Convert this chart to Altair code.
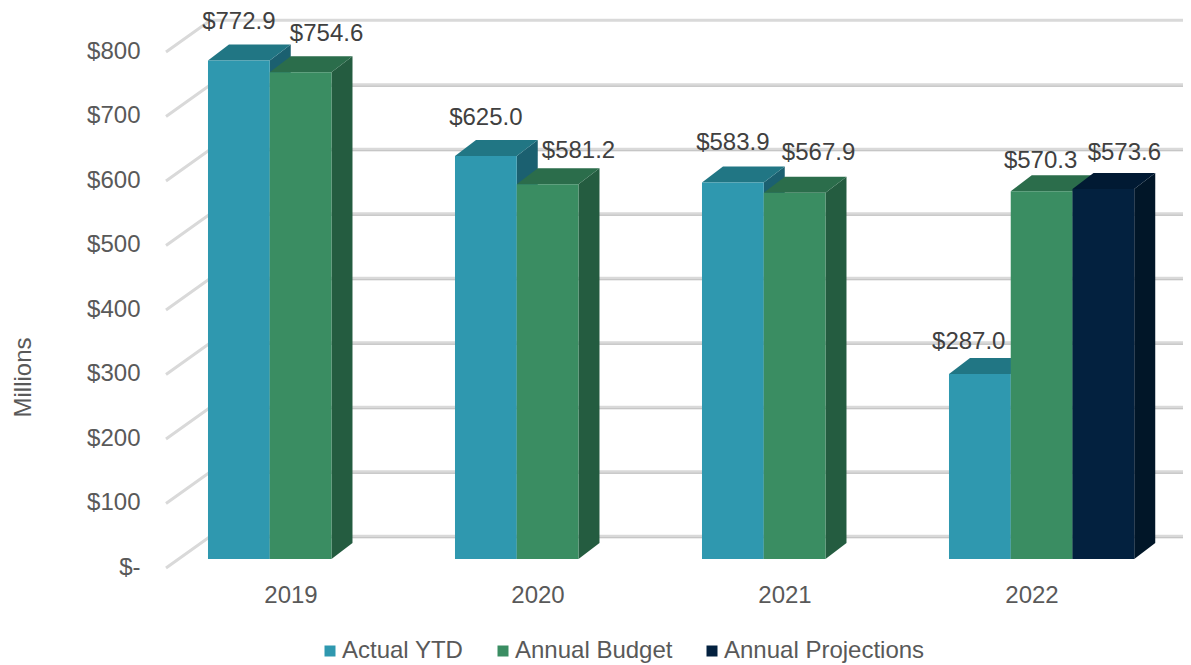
import altair as alt
import pandas as pd

years = [2019, 2020, 2021, 2022]
series = ["Actual YTD", "Annual Budget", "Annual Projections"]
actual = [772.9, 625.0, 583.9, 287.0]
budget = [754.6, 581.2, 567.9, 570.3]
projections = [None, None, None, 573.6]
y_ticks = [0, 100, 200, 300, 400, 500, 600, 700, 800]

front_colors = ["#2F98AF", "#3A8D62", "#03213F"]
top_colors = ["#217684", "#2B6D4B", "#011A33"]
side_colors = ["#1B6070", "#245C40", "#011628"]

FONT = "Liberation Sans"
AXIS_GREY = "#595959"
LABEL_GREY = "#404040"

# layout, in data units
BAR_W = 0.25
DEPTH_X = 0.085
DEPTH_Y = 24.8
X_DOMAIN = [-0.17, 3.9474]
GRID_FRONT_Y = -14
GRID_BACK_X = 0.01
GRID_BACK_Y = 35.2
GRID_EDGE_DROP = 2.3
# hand-placed label nudges (x in category units, y in value units above the bar top)
nudge = {
    (0, 0): (0.0, 59), (0, 1): (0.105, 60),
    (1, 0): (0.0, 59), (1, 1): (0.125, 51.5),
    (2, 0): (0.0, 61.5), (2, 1): (0.097, 61.5),
    (3, 0): (-0.045, 49.5), (3, 1): (-0.004, 47), (3, 2): (0.085, 56),
}

fronts, sides, tops, labels = [], [], [], []
for g, yr in enumerate(years):
    for s, vals in enumerate([actual, budget, projections]):
        v = vals[g]
        if v is None:
            continue
        x0 = g + s * BAR_W
        x1 = x0 + BAR_W
        fid = f"{yr}-{s}"
        fronts.append(dict(x=x0, x2=x1, v=v, series=series[s]))
        sides += [
            dict(fid=fid, x=x1, y=0, y2=v, c=side_colors[s]),
            dict(fid=fid, x=x1 + DEPTH_X, y=DEPTH_Y, y2=v + DEPTH_Y, c=side_colors[s]),
        ]
        tops += [
            dict(fid=fid, x=x0, y=v, y2=v, c=top_colors[s]),
            dict(fid=fid, x=x0 + DEPTH_X, y=v, y2=v + DEPTH_Y, c=top_colors[s]),
            dict(fid=fid, x=x1, y=v, y2=v + DEPTH_Y, c=top_colors[s]),
            dict(fid=fid, x=x1 + DEPTH_X, y=v + DEPTH_Y, y2=v + DEPTH_Y, c=top_colors[s]),
        ]
        nx, ny = nudge[(g, s)]
        labels.append(dict(x=x0 + BAR_W / 2 + nx, y=v + ny, v=v))

grid = []
grid_edge = []
for t in y_ticks:
    grid += [
        dict(t=t, x=X_DOMAIN[0], y=t + GRID_FRONT_Y),
        dict(t=t, x=GRID_BACK_X, y=t + GRID_BACK_Y),
        dict(t=t, x=X_DOMAIN[1], y=t + GRID_BACK_Y),
    ]
    if t < max(y_ticks):
        grid_edge += [
            dict(t=t, x=GRID_BACK_X, y=t + GRID_BACK_Y - GRID_EDGE_DROP),
            dict(t=t, x=X_DOMAIN[1], y=t + GRID_BACK_Y - GRID_EDGE_DROP),
        ]

x_scale = alt.Scale(domain=X_DOMAIN, nice=False, zero=False)
y_scale = alt.Scale(domain=[0, 800], nice=False)

x_axis = alt.Axis(
    values=[g + 0.334 for g in range(len(years))],
    labelExpr="'' + (2019 + floor(datum.value))",
    domain=False, ticks=False, grid=False, title=None,
    labelFont=FONT, labelFontSize=24, labelColor=AXIS_GREY, labelPadding=24,
)
y_axis = alt.Axis(
    values=y_ticks,
    labelExpr="datum.value == 0 ? '$-' : '$' + datum.value",
    domain=False, ticks=False, grid=False,
    title="Millions", titleFont=FONT, titleFontSize=24, titleFontWeight="normal",
    titleColor=AXIS_GREY, titleX=-131, titleY=334, titleAngle=270,
    labelFont=FONT, labelFontSize=24, labelColor=AXIS_GREY,
    labelPadding=26, labelOffset=8,
)

grid_layer = (
    alt.Chart(pd.DataFrame(grid))
    .mark_line(color="#D9D9D9", strokeWidth=3)
    .encode(
        x=alt.X("x:Q", scale=x_scale, axis=x_axis),
        y=alt.Y("y:Q", scale=y_scale, axis=y_axis),
        detail="t:N",
        order="x:Q",
    )
)

grid_edge_layer = (
    alt.Chart(pd.DataFrame(grid_edge))
    .mark_line(color="#BDBDBD", strokeWidth=1)
    .encode(
        x=alt.X("x:Q", scale=x_scale),
        y=alt.Y("y:Q", scale=y_scale),
        detail="t:N",
        order="x:Q",
    )
)


def faces(rows):
    return (
        alt.Chart(pd.DataFrame(rows))
        .mark_area(opacity=1)
        .encode(
            x=alt.X("x:Q", scale=x_scale),
            y=alt.Y("y:Q", scale=y_scale, stack=None),
            y2="y2:Q",
            color=alt.Color("c:N", scale=None),
            detail="fid:N",
        )
    )


front_layer = (
    alt.Chart(pd.DataFrame(fronts))
    .mark_rect()
    .encode(
        x=alt.X("x:Q", scale=x_scale),
        x2="x2:Q",
        y=alt.Y("v:Q", scale=y_scale),
        y2=alt.Y2(datum=0),
        color=alt.Color(
            "series:N",
            scale=alt.Scale(domain=series, range=front_colors),
            legend=alt.Legend(
                orient="none", direction="horizontal", columns=3, title=None,
                legendX=152, legendY=596, symbolType="square", symbolSize=121,
                symbolStrokeWidth=0, labelFont=FONT, labelFontSize=24,
                labelColor=AXIS_GREY, columnPadding=27, labelOffset=0, labelLimit=400,
            ),
        ),
    )
)

label_layer = (
    alt.Chart(pd.DataFrame(labels))
    .mark_text(font=FONT, fontSize=24, color=LABEL_GREY, align="center", baseline="middle")
    .encode(
        x=alt.X("x:Q", scale=x_scale),
        y=alt.Y("y:Q", scale=y_scale),
        text=alt.Text("v:Q", format="$.1f"),
    )
)

chart = (
    alt.layer(grid_layer, grid_edge_layer, faces(sides), faces(tops), front_layer, label_layer)
    .resolve_scale(color="independent")
    .properties(
        width=1017,
        height=516,
        autosize=alt.AutoSizeParams(type="none"),
        padding={"left": 158, "top": 35, "right": 0, "bottom": 105},
    )
    .configure_view(stroke=None)
)

chart.save("out.html", embed_options={"renderer": "svg", "actions": False})
